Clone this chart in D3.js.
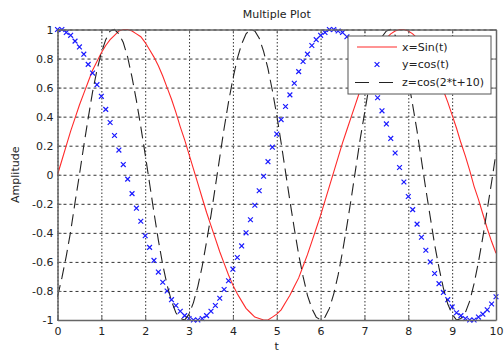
<!DOCTYPE html>
<html><head><meta charset="utf-8">
<script src="https://cdn.jsdelivr.net/npm/d3@7"></script>
<style>
body{margin:0;background:#fff}
svg{display:block}
text{font-family:"DejaVu Sans",sans-serif;fill:#222}
</style>
</head><body>
<svg id="chart" width="504" height="352"></svg>
<script>
// ---- data ----
const tValues = [0,0.1,0.2,0.3,0.4,0.5,0.6,0.7,0.8,0.9,
1,1.1,1.2,1.3,1.4,1.5,1.6,1.7,1.8,1.9,
2,2.1,2.2,2.3,2.4,2.5,2.6,2.7,2.8,2.9,
3,3.1,3.2,3.3,3.4,3.5,3.6,3.7,3.8,3.9,
4,4.1,4.2,4.3,4.4,4.5,4.6,4.7,4.8,4.9,
5,5.1,5.2,5.3,5.4,5.5,5.6,5.7,5.8,5.9,
6,6.1,6.2,6.3,6.4,6.5,6.6,6.7,6.8,6.9,
7,7.1,7.2,7.3,7.4,7.5,7.6,7.7,7.8,7.9,
8,8.1,8.2,8.3,8.4,8.5,8.6,8.7,8.8,8.9,
9,9.1,9.2,9.3,9.4,9.5,9.6,9.7,9.8,9.9,
10];

const sinValues = [0.00,0.10,0.20,0.30,0.39,0.48,0.56,0.64,0.72,0.78,
0.84,0.89,0.93,0.96,0.99,1.00,1.00,0.99,0.97,0.95,
0.91,0.86,0.81,0.75,0.68,0.60,0.52,0.43,0.33,0.24,
0.14,0.04,-0.06,-0.16,-0.26,-0.35,-0.44,-0.53,-0.61,-0.69,
-0.76,-0.82,-0.87,-0.92,-0.95,-0.98,-0.99,-1.00,-1.00,-0.98,
-0.96,-0.93,-0.88,-0.83,-0.77,-0.71,-0.63,-0.55,-0.46,-0.37,
-0.28,-0.18,-0.08,0.02,0.12,0.22,0.31,0.40,0.49,0.58,
0.66,0.73,0.79,0.85,0.90,0.94,0.97,0.99,1.00,1.00,
0.99,0.97,0.94,0.90,0.85,0.80,0.73,0.66,0.58,0.50,
0.41,0.32,0.22,0.13,0.03,-0.08,-0.17,-0.27,-0.37,-0.46,
-0.54];

const cosValues = [1.00,1.00,0.98,0.96,0.92,0.88,0.83,0.76,0.70,0.62,
0.54,0.45,0.36,0.27,0.17,0.07,-0.03,-0.13,-0.23,-0.32,
-0.42,-0.50,-0.59,-0.67,-0.74,-0.80,-0.86,-0.90,-0.94,-0.97,
-0.99,-1.00,-1.00,-0.99,-0.97,-0.94,-0.90,-0.85,-0.79,-0.73,
-0.65,-0.57,-0.49,-0.40,-0.31,-0.21,-0.11,-0.01,0.09,0.19,
0.28,0.38,0.47,0.55,0.63,0.71,0.78,0.83,0.89,0.93,
0.96,0.98,1.00,1.00,0.99,0.98,0.95,0.91,0.87,0.81,
0.75,0.68,0.61,0.53,0.44,0.35,0.25,0.15,0.05,-0.05,
-0.15,-0.24,-0.34,-0.43,-0.52,-0.60,-0.68,-0.75,-0.81,-0.86,
-0.91,-0.95,-0.97,-0.99,-1.00,-1.00,-0.98,-0.96,-0.93,-0.89,
-0.84];

const zValues = [-0.84,-0.71,-0.56,-0.39,-0.19,0.00,0.20,0.39,0.57,0.72,
0.84,0.93,0.99,1.00,0.97,0.91,0.81,0.67,0.51,0.33,
0.14,-0.06,-0.26,-0.45,-0.62,-0.76,-0.87,-0.95,-0.99,-1.00,
-0.96,-0.88,-0.77,-0.63,-0.46,-0.28,-0.08,0.12,0.32,0.50,
0.66,0.80,0.90,0.97,1.00,0.99,0.94,0.85,0.73,0.58,
0.41,0.22,0.02,-0.18,-0.37,-0.55,-0.70,-0.83,-0.92,-0.98,
-1.00,-0.98,-0.92,-0.82,-0.69,-0.53,-0.35,-0.16,0.04,0.24,
0.42,0.60,0.74,0.86,0.95,0.99,1.00,0.96,0.89,0.79,
0.65,0.48,0.30,0.10,-0.10,-0.29,-0.48,-0.64,-0.78,-0.89,
-0.96,-1.00,-0.99,-0.95,-0.87,-0.75,-0.60,-0.43,-0.24,-0.05,
0.15];

const xTicks = [0,1,2,3,4,5,6,7,8,9,10];
const yTicks = [-1,-0.8,-0.6,-0.4,-0.2,0,0.2,0.4,0.6,0.8,1];
const seriesNames = ["x=Sin(t)","y=cos(t)","z=cos(2*t+10)"];
const titleText = "Multiple Plot";
const xLabel = "t";
const yLabel = "Amplitude";

// ---- drawing ----
const svg = d3.select("#chart");
const L = 57.5, R = 496, T = 29.5, B = 320;
const x = d3.scaleLinear().domain([0,10]).range([L,R]);
const y = d3.scaleLinear().domain([-1,1]).range([B,T]);
const fmt = d => String(+(+d).toFixed(1));

// grid
svg.append("g").attr("transform",`translate(0,${B})`)
  .call(d3.axisBottom(x).tickValues(xTicks).tickSize(-(B-T)).tickFormat(""))
  .call(g=>g.select(".domain").remove())
  .call(g=>g.selectAll("line").attr("stroke","#333").attr("stroke-width",1).attr("stroke-dasharray","1.5,2"));
svg.append("g").attr("transform",`translate(${L},0)`)
  .call(d3.axisLeft(y).tickValues(yTicks).tickSize(-(R-L)).tickFormat(""))
  .call(g=>g.select(".domain").remove())
  .call(g=>g.selectAll("line").attr("stroke","#333").attr("stroke-width",1).attr("stroke-dasharray","3,3"));

const pts = (vals) => tValues.map((t,i)=>[t, vals[i]]);
const line = d3.line().x(d=>x(d[0])).y(d=>y(d[1]));

// sin line
svg.append("path").datum(pts(sinValues)).attr("d",line)
  .attr("fill","none").attr("stroke","#ff2a2a").attr("stroke-width",1.1);

// cos markers
const mk = 2.4;
const markers = svg.append("g").attr("stroke","#1a1aff").attr("stroke-width",1.2);
markers.selectAll("path").data(pts(cosValues)).join("path")
  .attr("d", d=>{const cx=x(d[0]), cy=y(d[1]);
     return `M${cx-mk},${cy-mk}L${cx+mk},${cy+mk}M${cx-mk},${cy+mk}L${cx+mk},${cy-mk}`;});

// z dashed line
svg.append("path").datum(pts(zValues)).attr("d",line)
  .attr("fill","none").attr("stroke","#222").attr("stroke-width",1.1)
  .attr("stroke-dasharray","12,6");

// legend
const lg = svg.append("g");
lg.append("rect").attr("x",348).attr("y",36).attr("width",143).attr("height",58)
  .attr("fill","#fff").attr("stroke","#555").attr("stroke-width",1);
const rows = [47,64.5,82.5];
lg.append("line").attr("x1",357).attr("x2",397).attr("y1",rows[0]).attr("y2",rows[0])
  .attr("stroke","#ff2a2a").attr("stroke-width",1.1);
lg.append("path").attr("d",`M${377-mk},${rows[1]-mk}L${377+mk},${rows[1]+mk}M${377-mk},${rows[1]+mk}L${377+mk},${rows[1]-mk}`)
  .attr("stroke","#1a1aff").attr("stroke-width",1.2);
lg.append("line").attr("x1",355).attr("x2",397).attr("y1",rows[2]).attr("y2",rows[2])
  .attr("stroke","#222").attr("stroke-width",1.1).attr("stroke-dasharray","14,10");
seriesNames.forEach((s,i)=>{
  lg.append("text").attr("x",402).attr("y",rows[i]).attr("dy","0.35em")
    .attr("font-size",11).text(s);
});

// frame + inward ticks
const frame = svg.append("g");
frame.append("g").attr("transform",`translate(0,${B})`)
  .call(d3.axisBottom(x).tickValues(xTicks).tickSizeInner(-4).tickSizeOuter(0).tickPadding(7).tickFormat(fmt))
  .call(g=>g.select(".domain").attr("stroke","#666").attr("stroke-width",1.5))
  .call(g=>g.selectAll("line").attr("stroke","#666"))
  .call(g=>g.selectAll("text").attr("font-size",11).attr("fill","#222").attr("font-family","DejaVu Sans, sans-serif"));
frame.append("g").attr("transform",`translate(0,${T})`)
  .call(d3.axisTop(x).tickValues(xTicks).tickSizeInner(-4).tickSizeOuter(0).tickFormat(""))
  .call(g=>g.select(".domain").attr("stroke","#666").attr("stroke-width",1.5))
  .call(g=>g.selectAll("line").attr("stroke","#666"));
frame.append("g").attr("transform",`translate(${L},0)`)
  .call(d3.axisLeft(y).tickValues(yTicks).tickSizeInner(-4).tickSizeOuter(0).tickPadding(4).tickFormat(fmt))
  .call(g=>g.select(".domain").attr("stroke","#666").attr("stroke-width",1.5))
  .call(g=>g.selectAll("line").attr("stroke","#666"))
  .call(g=>g.selectAll("text").attr("font-size",11).attr("fill","#222").attr("font-family","DejaVu Sans, sans-serif"));
frame.append("g").attr("transform",`translate(${R},0)`)
  .call(d3.axisRight(y).tickValues(yTicks).tickSizeInner(-4).tickSizeOuter(0).tickFormat(""))
  .call(g=>g.select(".domain").attr("stroke","#666").attr("stroke-width",1.5))
  .call(g=>g.selectAll("line").attr("stroke","#666"));

// titles
svg.append("text").attr("x",(L+R)/2).attr("y",18).attr("text-anchor","middle")
  .attr("font-size",11).text(titleText);
svg.append("text").attr("x",(L+R)/2).attr("y",350).attr("text-anchor","middle")
  .attr("font-size",11).text(xLabel);
svg.append("text").attr("transform",`translate(19,${(T+B)/2}) rotate(-90)`)
  .attr("text-anchor","middle").attr("font-size",11).text(yLabel);
</script>
</body></html>
